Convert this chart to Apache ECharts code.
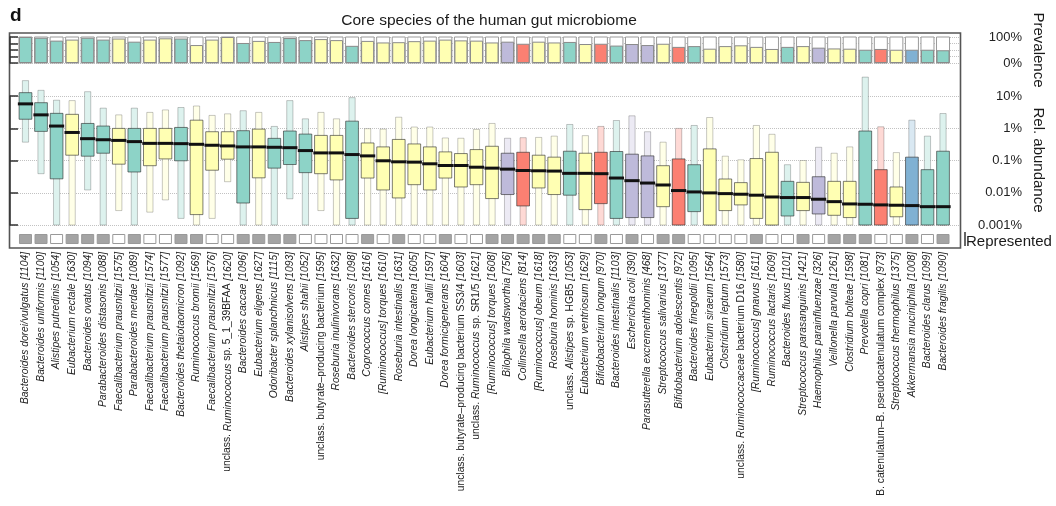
<!DOCTYPE html>
<html><head><meta charset="utf-8">
<script src="https://cdn.jsdelivr.net/npm/echarts@6/dist/echarts.min.js"></script>
<style>html,body{margin:0;padding:0;background:#fff}#c{width:1056px;height:506px}</style>
</head><body><div id="c"></div>
<script>
// ---------- DATA ----------
const species = [
  "Bacteroides dorei/vulgatus [1104]","Bacteroides uniformis [1100]","Alistipes putredinis [1054]",
  "Eubacterium rectale [1630]","Bacteroides ovatus [1094]","Parabacteroides distasonis [1088]",
  "Faecalibacterium prausnitzii [1575]","Parabacteroides merdae [1089]","Faecalibacterium prausnitzii [1574]",
  "Faecalibacterium prausnitzii [1577]","Bacteroides thetaiotaomicron [1092]","Ruminococcus bromii [1569]",
  "Faecalibacterium prausnitzii [1576]","unclass. Ruminococcus sp. 5_1_39BFAA [1620]","Bacteroides caccae [1096]",
  "Eubacterium eligens [1627]","Odoribacter splanchnicus [1115]","Bacteroides xylanisolvens [1093]",
  "Alistipes shahii [1052]","unclass. butyrate–producing bacterium [1595]","Roseburia inulinivorans [1632]",
  "Bacteroides stercoris [1098]","Coprococcus comes [1616]","[Ruminococcus] torques [1610]",
  "Roseburia intestinalis [1631]","Dorea longicatena [1605]","Eubacterium hallii [1597]",
  "Dorea formicigenerans [1604]","unclass. butyrate–producing bacterium SS3/4 [1603]","unclass. Ruminococcus sp. SR1/5 [1621]",
  "[Ruminococcus] torques [1608]","Bilophila wadsworthia [756]","Collinsella aerofaciens [814]",
  "[Ruminococcus] obeum [1618]","Roseburia hominis [1633]","unclass. Alistipes sp. HGB5 [1053]",
  "Eubacterium ventriosum [1629]","Bifidobacterium longum [970]","Bacteroides intestinalis [1103]",
  "Escherichia coli [390]","Parasutterella excrementihominis [468]","Streptococcus salivarius [1377]",
  "Bifidobacterium adolescentis [972]","Bacteroides finegoldii [1095]","Eubacterium siraeum [1564]",
  "Clostridium leptum [1573]","unclass. Ruminococcaceae bacterium D16 [1580]","[Ruminococcus] gnavus [1611]",
  "Ruminococcus lactaris [1609]","Bacteroides fluxus [1101]","Streptococcus parasanguinis [1421]",
  "Haemophilus parainfluenzae [326]","Veillonella parvula [1261]","Clostridium bolteae [1598]",
  "Prevotella copri [1081]","B. catenulatum–B. pseudocatenulatum complex [973]","Streptococcus thermophilus [1375]",
  "Akkermansia muciniphila [1008]","Bacteroides clarus [1099]","Bacteroides fragilis [1090]"
];
// B = Bacteroidetes, F = Firmicutes, P = Proteobacteria, A = Actinobacteria, V = Verrucomicrobia
const phylum = ["B","B","B","F","B","B","F","B","F","F","B","F","F","F","B","F","B","B","B","F",
  "F","B","F","F","F","F","F","F","F","F","F","P","A","F","F","B","F","A","B","P",
  "P","F","A","B","F","F","F","F","F","B","F","P","F","F","B","A","F","V","B","B"];
// prevalence (%)
const prevalence = [100,97,86,90,97,90,94,82,90,95,94,69,90,100,77,85,81,96,88,92,
  88,66,85,79,80,84,86,90,87,86,79,82,74,82,79,81,73,74,67,73,
  69,74,62,65,55,65,68,62,54,62,65,59,56,55,51,54,51,51,51,49];
// relative abundance (%) box statistics
const whiskerHigh = [30,15,7.4,7.2,13.6,4.2,2.6,4.2,3.1,3.7,4.4,4.9,2.5,2.8,3.5,3.1,1.14,7.2,1.96,3.1,
  1.96,8.9,0.97,0.94,2.2,1.09,1.09,0.50,0.49,0.92,1.41,0.49,0.51,0.52,0.57,1.31,0.59,1.14,1.74,2.43,
  0.78,0.37,0.99,1.22,2.15,0.136,0.105,1.22,0.65,0.074,0.1,0.257,0.168,0.264,38.5,1.11,0.176,1.78,0.57,2.86];
const q3 = [12.7,6.2,2.9,2.7,1.41,1.17,0.99,0.99,0.99,0.99,1.06,1.78,0.78,0.78,0.84,0.94,0.486,0.82,0.66,0.60,
  0.60,1.66,0.35,0.264,0.45,0.326,0.264,0.185,0.164,0.218,0.276,0.168,0.18,0.146,0.127,0.194,0.168,0.18,0.19,0.157,
  0.139,0.069,0.112,0.074,0.229,0.0267,0.0206,0.115,0.18,0.0226,0.021,0.0314,0.0226,0.0226,0.82,0.052,0.0151,0.127,0.052,0.194];
const median = [5.7,2.6,1.17,0.74,0.475,0.44,0.42,0.385,0.34,0.34,0.333,0.318,0.297,0.283,0.264,0.264,0.257,0.25,0.203,0.172,
  0.172,0.153,0.139,0.098,0.091,0.089,0.079,0.070,0.070,0.062,0.058,0.054,0.049,0.048,0.047,0.040,0.040,0.039,0.0286,0.0237,
  0.020,0.0174,0.0117,0.0106,0.0099,0.0094,0.009,0.0084,0.0074,0.0071,0.0071,0.0063,0.0053,0.0045,0.0044,0.0042,0.0041,0.004,0.0037,0.0037];
const q1 = [1.9,0.80,0.027,0.146,0.136,0.168,0.077,0.044,0.069,0.112,0.098,0.0021,0.050,0.11,0.0048,0.029,0.058,0.075,0.042,0.039,
  0.025,0.0016,0.0286,0.0122,0.0069,0.0178,0.0122,0.0286,0.0151,0.0178,0.0066,0.0088,0.0039,0.0141,0.0088,0.0084,0.003,0.0046,0.0016,0.0017,
  0.0017,0.0037,0.001,0.0026,0.001,0.0028,0.0042,0.0016,0.001,0.0019,0.0028,0.0022,0.002,0.0017,0.001,0.001,0.0018,0.001,0.001,0.001];
const whiskerLow = [0.37,0.039,0.001,0.001,0.0122,0.001,0.0028,0.001,0.0025,0.006,0.0016,0.001,0.0016,0.022,0.001,0.001,0.001,0.0065,0.001,0.0028,
  0.001,0.001,0.001,0.001,0.001,0.001,0.001,0.001,0.001,0.001,0.001,0.001,0.001,0.001,0.001,0.001,0.001,0.001,0.001,0.001,
  0.001,0.001,0.001,0.001,0.001,0.001,0.001,0.001,0.001,0.001,0.001,0.001,0.001,0.001,0.001,0.001,0.001,0.001,0.001,0.001];
const represented = [1,1,0,1,1,1,0,1,0,0,1,1,0,0,1,1,1,1,0,0,
  0,0,1,0,1,0,0,1,0,0,1,1,1,1,1,0,0,1,0,1,
  0,1,1,0,0,0,0,1,0,0,1,0,1,1,1,0,0,1,0,1];
const prevalenceTickLabels = ["0%","","","","100%"];
const abundanceTickLabels = ["0.001%","0.01%","0.1%","1%","10%"];

// ---------- STYLE ----------
const FONT = "'Liberation Sans', Arial, Helvetica, sans-serif";
const phylumColors = {B:"#8dd3c7", F:"#ffffb3", P:"#bebada", A:"#fb8072", V:"#80b1d3"};
function mix(hex, t) {
  const n = parseInt(hex.slice(1), 16);
  const r = (n >> 16) & 255, g = (n >> 8) & 255, b = n & 255;
  const m = c => Math.round(255 - (255 - c) * t);
  return `rgb(${m(r)},${m(g)},${m(b)})`;
}
const uprightRe = /(unclass\.|sp\. [^\s\[]+|butyrate–producing bacterium(?: SS3\/4)?|bacterium D16|B\. catenulatum–B\. pseudocatenulatum complex)/g;

const DL = 17.7, DW = 933.1;  // data grid horizontal extent
const boxData = species.map((_, i) => [i, whiskerLow[i], q1[i], median[i], q3[i], whiskerHigh[i]]);

const chart = echarts.init(document.getElementById('c'), null, {renderer: 'canvas'});
const hiddenCat = gi => ({type:'category', gridIndex:gi, data:species, show:false});
chart.setOption({
  animation: false,
  backgroundColor: '#fff',
  title: {text: 'Core species of the human gut microbiome', left: 484, top: 8, textAlign: 'center',
    textStyle: {fontFamily: FONT, fontSize: 15.5, fontWeight: 'normal', color: '#1a1a1a'}},
  grid: [
    {left: 10, top: 37, width: 950, height: 26},
    {left: 10, top: 96, width: 950, height: 129},
    {left: DL, top: 37, width: DW, height: 26},
    {left: DL, top: 63.75, width: DW, height: 161.25},
    {left: DL, top: 234, width: DW, height: 10}
  ],
  xAxis: [
    {type:'value', gridIndex:0, min:0, max:1, show:false},
    {type:'value', gridIndex:1, min:0, max:1, show:false},
    hiddenCat(2), hiddenCat(3),
    {type:'category', gridIndex:4, data:species, axisLine:{show:false}, axisTick:{show:false},
      axisLabel:{rotate:90, interval:0, margin:8, fontSize:10.3, fontStyle:'italic', fontFamily:FONT, color:'#222',
        formatter: s => s.replace(uprightRe, '{n|$1}'),
        rich:{n:{fontStyle:'normal', fontSize:10.3, fontFamily:FONT, color:'#222'}}}}
  ],
  yAxis: [
    {type:'value', gridIndex:0, min:0, max:100, interval:25, position:'right', offset:5,
      axisLine:{show:true, lineStyle:{color:'#333', width:1.5}},
      axisTick:{show:true, length:8, lineStyle:{color:'#333', width:1.5}},
      axisLabel:{align:'right', margin:57, fontSize:13, fontFamily:FONT, color:'#222',
        formatter: v => prevalenceTickLabels[Math.round(v / 25)]},
      splitLine:{show:true, lineStyle:{type:'dotted', color:'#c2c2c2'}}},
    {type:'log', logBase:10, gridIndex:1, min:0.001, max:10, position:'right', offset:5,
      axisLine:{show:true, lineStyle:{color:'#333', width:1.5}},
      axisTick:{show:true, length:8, lineStyle:{color:'#333', width:1.5}},
      axisLabel:{align:'right', margin:57, fontSize:13, fontFamily:FONT, color:'#222',
        formatter: v => abundanceTickLabels[Math.round(Math.log10(v)) + 3]},
      splitLine:{show:true, lineStyle:{type:'dotted', color:'#c2c2c2'}}},
    {type:'value', gridIndex:2, min:0, max:100, show:false},
    {type:'log', logBase:10, gridIndex:3, min:0.001, max:100, show:false},
    {type:'value', gridIndex:4, min:0, max:1, show:false}
  ],
  series: [
    {type:'bar', xAxisIndex:2, yAxisIndex:2, barWidth:13,
      showBackground:true, backgroundStyle:{color:'#fff', borderColor:'#9a9a9a', borderWidth:1},
      itemStyle:{borderColor:'#8a8a8a', borderWidth:1},
      data: prevalence.map((v, i) => ({value:v, itemStyle:{color: phylumColors[phylum[i]]}}))},
    {type:'custom', xAxisIndex:3, yAxisIndex:3, encode:{x:0, y:[1,2,3,4,5]}, data: boxData,
      renderItem: (params, api) => {
        const i = api.value(0);
        const band = api.size([1, 0])[0];
        const cx = api.coord([i, 1])[0];
        const y = k => api.coord([i, api.value(k)])[1];
        const col = phylumColors[phylum[params.dataIndex]];
        const wW = band * 0.4, bW = band * 0.82, mW = band * 0.98;
        return {type:'group', children:[
          {type:'rect', shape:{x:cx - wW/2, y:y(5), width:wW, height:y(1) - y(5)},
            style:{fill: mix(col, 0.3), stroke:'rgba(0,0,0,0.22)', lineWidth:1}},
          {type:'rect', shape:{x:cx - bW/2, y:y(4), width:bW, height:y(2) - y(4)},
            style:{fill: col, stroke:'rgba(40,40,40,0.6)', lineWidth:1}},
          {type:'line', shape:{x1:cx - mW/2, y1:y(3), x2:cx + mW/2, y2:y(3)},
            style:{stroke:'#111', lineWidth:3}}
        ]};
      }},
    {type:'bar', xAxisIndex:4, yAxisIndex:4, barWidth:13,
      itemStyle:{borderColor:'#999', borderWidth:1},
      data: represented.map(r => ({value:1, itemStyle:{color: r ? '#a4a4a4' : '#fff'}}))}
  ],
  graphic: [
    {type:'rect', shape:{x:9.5, y:33, width:951, height:215}, style:{fill:'none', stroke:'#555', lineWidth:1.6}},
    {type:'text', x:10, y:6, style:{text:'d', font:`bold 19px ${FONT}`, fill:'#111'}},
    {type:'text', x:1038, y:50, rotation:-Math.PI/2,
      style:{text:'Prevalence', font:`15px ${FONT}`, fill:'#1a1a1a', align:'center', verticalAlign:'middle'}},
    {type:'text', x:1038, y:160, rotation:-Math.PI/2,
      style:{text:'Rel. abundance', font:`15px ${FONT}`, fill:'#1a1a1a', align:'center', verticalAlign:'middle'}},
    {type:'text', x:966, y:242, style:{text:'Represented', font:`15px ${FONT}`, fill:'#1a1a1a', verticalAlign:'middle'}},
    {type:'line', shape:{x1:965, y1:232, x2:965, y2:246}, style:{stroke:'#333', lineWidth:1.5}}
  ]
});
</script></body></html>
